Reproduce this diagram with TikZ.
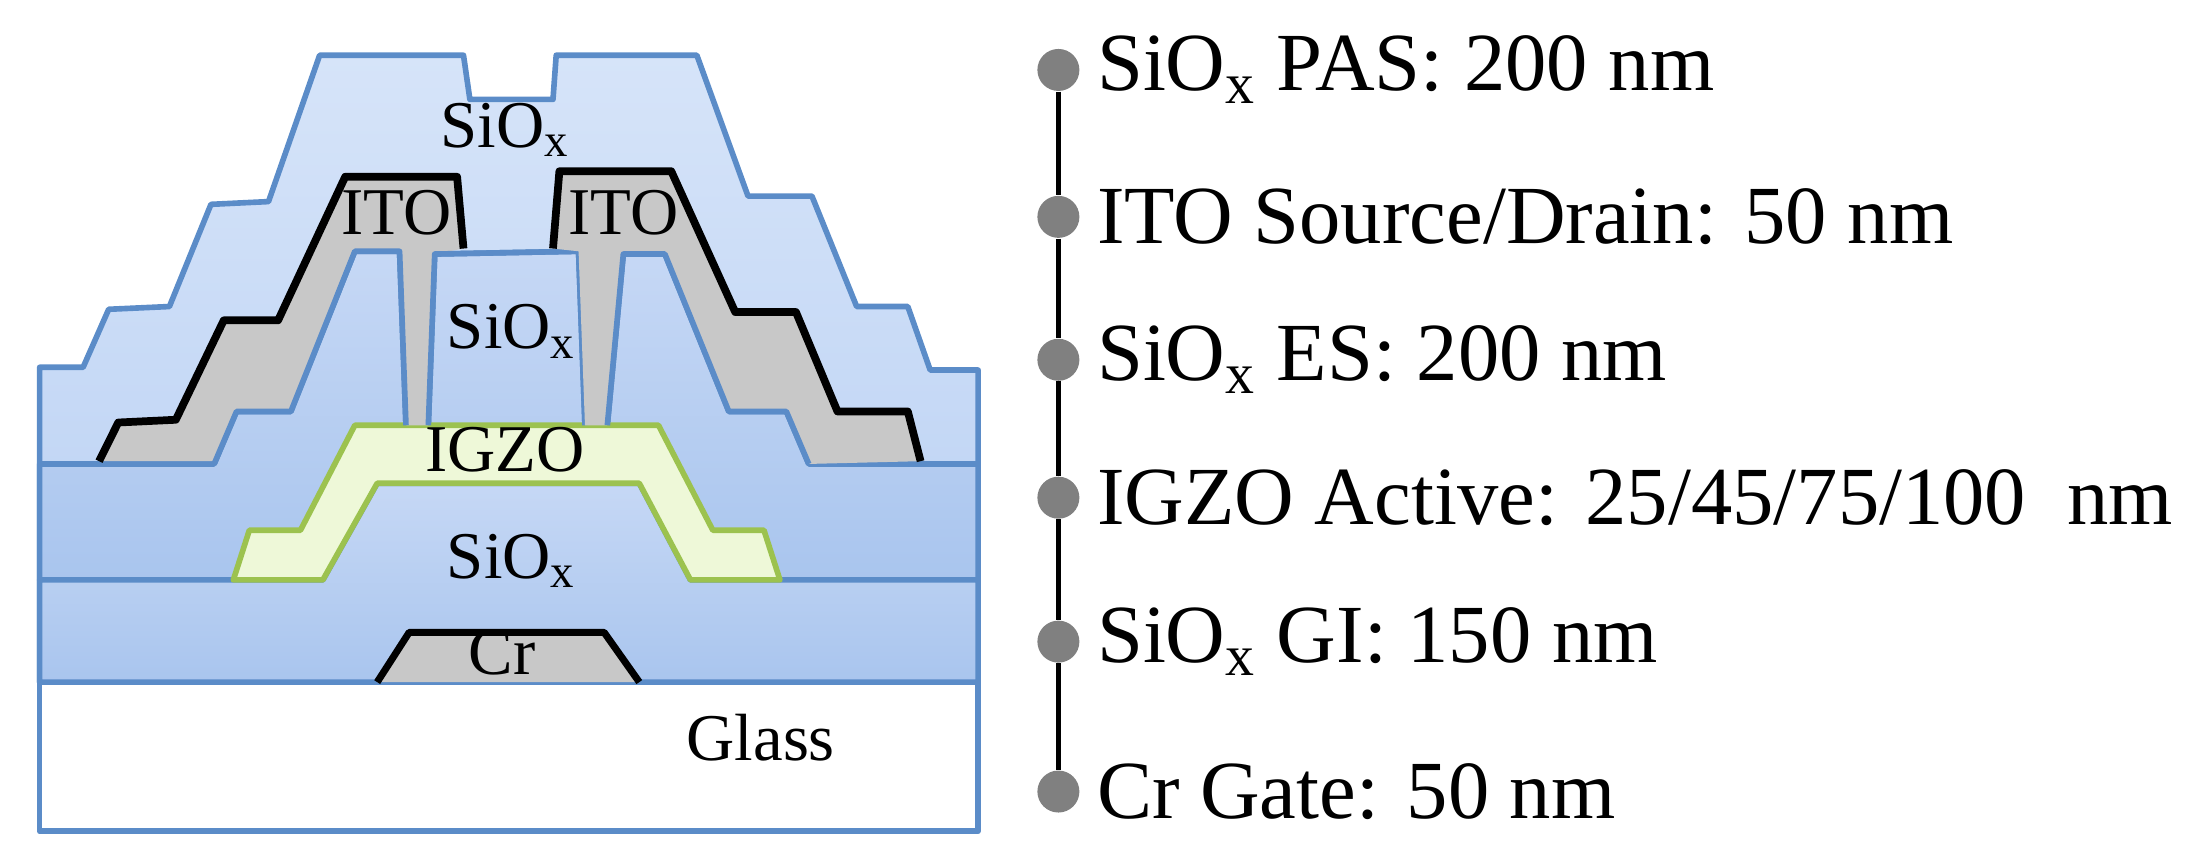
\documentclass[tikz,border=0pt]{standalone}
\usepackage{fontspec}
\setmainfont{Liberation Serif}
\begin{document}
\begin{tikzpicture}[
  lay/.style={draw=edgeb, line width=1.6pt, line join=round},
  lbl/.style={font=\fontsize{19}{21}\selectfont, inner sep=0pt},
  rlbl/.style={font=\fontsize{23.5}{25}\selectfont, anchor=west, inner sep=0pt},
  dotn/.style={circle, fill=dotg, minimum size=0.42cm, inner sep=0pt}]
\definecolor{edgeb}{HTML}{5B8CC8}
\definecolor{pas}{HTML}{B9D0F3}
\definecolor{pasT}{HTML}{D6E4F9}
\definecolor{blu}{HTML}{A9C5EE}
\definecolor{bluT}{HTML}{C6D8F5}
\definecolor{igzo}{HTML}{EEF8D8}
\definecolor{igzoE}{HTML}{9CC24F}
\definecolor{itog}{HTML}{C8C8C8}
\definecolor{dotg}{HTML}{808080}
\useasboundingbox (0,0) rectangle (21.99,-8.64);
\begin{scope}[x=0.00639cm, y=-0.005526cm]
\draw[lay, fill=white] (62,1235) rectangle (1530,1505);
\draw[lay, top color=pasT, bottom color=pas] (62,1235)--(62,665)--(130,665)--(170,560)--(265,555)--(330,370)--(420,365)--(500,100)--(725,100)--(735,180)--(865,180)--(870,100)--(1090,100)--(1170,355)--(1270,355)--(1340,555)--(1420,555)--(1455,670)--(1530,670)--(1530,1235)--cycle;
\draw[lay, top color=bluT, bottom color=blu] (62,1050)--(62,840)--(335,840)--(370,745)--(455,745)--(555,455)--(625,455)--(635,770)--(670,770)--(680,460)--(905,455)--(915,770)--(950,770)--(975,460)--(1040,460)--(1140,745)--(1230,745)--(1265,840)--(1530,840)--(1530,1050)--cycle;
\draw[lay, top color=bluT, bottom color=blu] (62,1235)--(62,1050)--(505,1050)--(590,875)--(1000,875)--(1080,1050)--(1530,1050)--(1530,1235)--cycle;
\draw[draw=igzoE, line width=1.6pt, fill=igzo, line join=round] (365,1050)--(390,960)--(470,960)--(555,770)--(1030,770)--(1115,960)--(1195,960)--(1220,1050)--(1080,1050)--(1000,875)--(590,875)--(505,1050)--cycle;
\draw[line width=2pt, fill=itog, line join=round] (590,1235)--(640,1145)--(945,1145)--(1000,1235);
\fill[itog] (155,835)--(185,765)--(275,760)--(350,580)--(435,580)--(540,320)--(715,320)--(725,450)--(680,460)--(670,770)--(635,770)--(625,455)--(555,455)--(455,745)--(370,745)--(335,835)--cycle;
\draw[line width=2.2pt, line join=round] (155,835)--(185,765)--(275,760)--(350,580)--(435,580)--(540,320)--(715,320)--(725,450);
\draw[lay] (335,840)--(370,745)--(455,745)--(555,455)--(625,455)--(635,770);
\draw[lay] (670,770)--(680,460)--(905,455)--(915,770);
\fill[itog] (875,310)--(1050,310)--(1150,565)--(1245,565)--(1310,745)--(1420,745)--(1440,835)--(1265,840)--(1230,745)--(1140,745)--(1040,460)--(975,460)--(950,770)--(915,770)--(905,455)--(865,450)--cycle;
\draw[line width=2.2pt, line join=round] (865,450)--(875,310)--(1050,310)--(1150,565)--(1245,565)--(1310,745)--(1420,745)--(1440,835);
\draw[lay] (950,770)--(975,460)--(1040,460)--(1140,745)--(1230,745)--(1265,840);
\node[lbl] (t1) at (790,235) {SiO\textsubscript{x}};
\node[lbl] (t2) at (620,385) {ITO};
\node[lbl] (t3) at (975,385) {ITO};
\node[lbl] (t4) at (800,600) {SiO\textsubscript{x}};
\node[lbl] (t5) at (790,815) {IGZO};
\node[lbl] (t6) at (800,1015) {SiO\textsubscript{x}};
\node[lbl] (t7) at (785,1182) {Cr};
\node[lbl] (t8) at (1190,1335) {Glass};
\end{scope}
\begin{scope}[x=0.01cm, y=-0.01cm]
\node[dotn] (d1) at (1059,70) {};
\node[dotn] (d2) at (1059,217) {};
\node[dotn] (d3) at (1059,360) {};
\node[dotn] (d4) at (1059,498) {};
\node[dotn] (d5) at (1059,642) {};
\node[dotn] (d6) at (1059,792) {};
\draw[line width=1.5pt] (d1)--(d2)--(d3)--(d4)--(d5)--(d6);
\node[rlbl] (l1) at (1097,70) {SiO\textsubscript{x} PAS: 200 nm};
\node[rlbl] (l2) at (1097,217) {ITO Source/Drain: 50 nm};
\node[rlbl] (l3) at (1097,360) {SiO\textsubscript{x} ES: 200 nm};
\node[rlbl] (l4) at (1097,498) {IGZO Active: 25/45/75/100\ \ nm};
\node[rlbl] (l5) at (1097,642) {SiO\textsubscript{x} GI: 150 nm};
\node[rlbl] (l6) at (1097,792) {Cr Gate: 50 nm};
\end{scope}
\end{tikzpicture}
\end{document}
